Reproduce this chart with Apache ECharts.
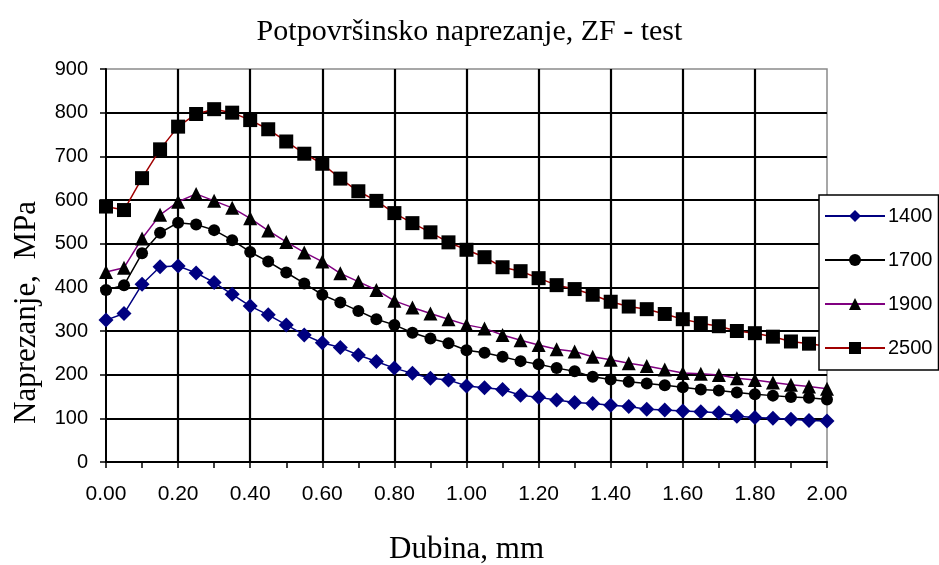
<!DOCTYPE html>
<html>
<head>
<meta charset="utf-8">
<script src="https://cdn.jsdelivr.net/npm/echarts@6/dist/echarts.min.js"></script>
<style>html,body{margin:0;padding:0;background:#fff}#c{width:939px;height:565px}</style>
</head>
<body>
<div id="c"></div>
<script>
const depth = [0.00,0.05,0.10,0.15,0.20,0.25,0.30,0.35,0.40,0.45,0.50,0.55,0.60,0.65,0.70,0.75,0.80,0.85,0.90,0.95,1.00,1.05,1.10,1.15,1.20,1.25,1.30,1.35,1.40,1.45,1.50,1.55,1.60,1.65,1.70,1.75,1.80,1.85,1.90,1.95,2.00];
const s1400 = [325,340,407,447,449,433,411,384,357,337,314,291,273,262,245,230,215,203,192,188,174,170,166,153,148,142,136,134,130,127,121,119,117,115,113,105,102,100,98,95,94];
const s1700 = [394,405,478,525,548,544,531,508,481,459,434,409,383,365,346,327,314,296,283,272,256,250,241,231,224,215,208,195,189,184,180,176,171,166,164,159,155,152,149,147,143];
const s1900 = [435,445,512,566,596,614,598,582,558,530,504,480,459,432,413,394,369,354,340,327,314,306,291,279,268,258,253,241,234,226,220,212,204,202,199,192,188,182,177,173,168];
const s2500 = [585,577,650,716,768,797,808,800,783,762,734,706,683,649,620,598,570,547,526,503,486,469,446,437,421,405,396,383,367,356,350,339,327,318,311,300,295,287,276,271,265];
const seriesNames = ['1400','1700','1900','2500'];
const titleText = 'Potpovršinsko naprezanje, ZF - test';
const xName = 'Dubina, mm';
const yName = 'Naprezanje,  MPa';

const zip = a => depth.map((d,i)=>[d,a[i]]);
const chart = echarts.init(document.getElementById('c'), null, {renderer:'canvas'});
const serif = '"Liberation Serif", "Times New Roman", serif';
const sans = '"Liberation Sans", Arial, sans-serif';
chart.setOption({
  animation:false,
  backgroundColor:'#fff',
  title:{text:titleText,left:'center',top:12,textStyle:{fontFamily:serif,fontWeight:'normal',fontSize:30,color:'#000'}},
  grid:{left:106,right:112,top:69,bottom:103,outerBoundsMode:'none',containLabel:false,show:true,borderColor:'#8a8a8a',borderWidth:1.5,backgroundColor:'transparent'},
  legend:{
    orient:'vertical',left:819,top:195,
    backgroundColor:'#fff',borderColor:'#000',borderWidth:1.5,
    padding:[11,6,12,5],itemGap:24,itemWidth:60,itemHeight:15,
    textStyle:{fontFamily:sans,fontSize:20,color:'#000',padding:[0,0,0,-2]},
    data:seriesNames, z:10
  },
  xAxis:{
    type:'value',min:0,max:2,interval:0.2,
    name:xName,nameLocation:'middle',nameGap:72,
    nameTextStyle:{fontFamily:serif,fontSize:31,color:'#000'},
    axisLine:{show:true,onZero:false,lineStyle:{color:'#000',width:2}},
    axisTick:{show:true,length:6,lineStyle:{color:'#000',width:1.5}},
    minorTick:{show:true,splitNumber:2,length:6,lineStyle:{color:'#000',width:1.5}},
    axisLabel:{margin:22,fontFamily:sans,fontSize:21,color:'#000',formatter:v=>v.toFixed(2)},
    splitLine:{show:true,showMinLine:false,showMaxLine:false,lineStyle:{color:'#000',width:2.2}}
  },
  yAxis:{
    type:'value',min:0,max:900,interval:100,
    name:yName,nameLocation:'middle',nameGap:64,
    nameTextStyle:{fontFamily:serif,fontSize:31,color:'#000',padding:[0,94,0,0]},
    axisLine:{show:true,lineStyle:{color:'#000',width:2}},
    axisTick:{show:true,length:6,lineStyle:{color:'#000',width:1.5}},
    axisLabel:{margin:18,fontFamily:sans,fontSize:20,color:'#000'},
    splitLine:{show:true,showMinLine:false,showMaxLine:false,lineStyle:{color:'#000',width:2.2}}
  },
  series:[
    {name:'1400',type:'line',data:zip(s1400),symbol:'diamond',symbolSize:15,itemStyle:{color:'#000080'},lineStyle:{color:'#000080',width:1.5}},
    {name:'1700',type:'line',data:zip(s1700),symbol:'circle',symbolSize:12,itemStyle:{color:'#000'},lineStyle:{color:'#000',width:1.5}},
    {name:'1900',type:'line',data:zip(s1900),symbol:'triangle',symbolSize:14,itemStyle:{color:'#000'},lineStyle:{color:'#800080',width:1.5}},
    {name:'2500',type:'line',data:zip(s2500),symbol:'rect',symbolSize:14,itemStyle:{color:'#000'},lineStyle:{color:'#a00000',width:1.5}}
  ]
});
</script>
</body>
</html>
